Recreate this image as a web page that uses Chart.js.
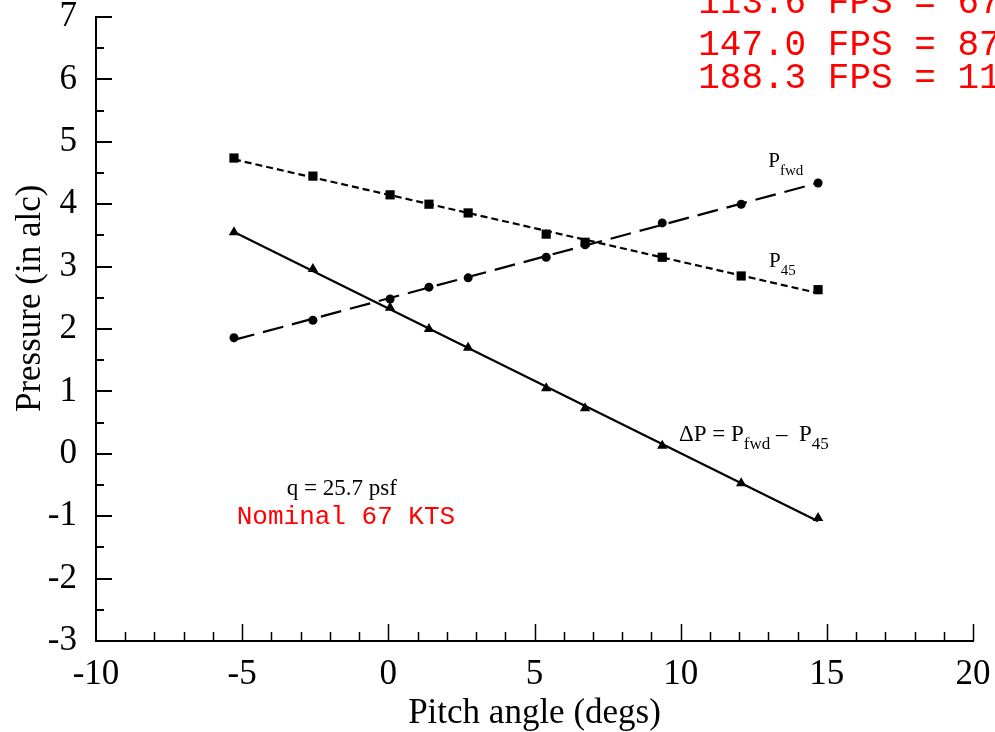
<!DOCTYPE html>
<html>
<head>
<meta charset="utf-8">
<title>Pressure vs pitch angle</title>
<script src="https://cdn.jsdelivr.net/npm/chart.js@4.4.1/dist/chart.umd.min.js"></script>
<style>
  html, body { margin: 0; padding: 0; background: #fff; overflow: hidden; }
  canvas { display: block; }
</style>
</head>
<body>
<canvas id="pitchChart" width="995" height="732"></canvas>
<script>
// values
var pitch  = [-5.28, -2.58, 0.06, 1.39, 2.73, 5.40, 6.73, 9.37, 12.07, 14.70];
var pFwd   = [1.86, 2.14, 2.48, 2.67, 2.82, 3.15, 3.35, 3.70, 4.00, 4.34];
var p45    = [4.74, 4.45, 4.15, 4.00, 3.86, 3.52, 3.39, 3.15, 2.85, 2.63];
var deltaP = [3.55, 2.96, 2.34, 2.00, 1.70, 1.05, 0.73, 0.13, -0.47, -1.03];

var xTicks = [-10, -5, 0, 5, 10, 15, 20];
var yTicks = [-3, -2, -1, 0, 1, 2, 3, 4, 5, 6, 7];

var speedNotes = ['113.6 FPS = 67 KTS', '147.0 FPS = 87 KTS', '188.3 FPS = 111 KTS'];

var serif = "'Liberation Serif', 'Times New Roman', serif";
var mono = "'Courier New', 'Liberation Mono', monospace";

function points(xs, ys) {
  return xs.map(function (x, i) { return { x: x, y: ys[i] }; });
}

// least squares line through a series, drawn from first to last run
function fitLine(xs, ys) {
  var n = xs.length, sx = 0, sy = 0, sxx = 0, sxy = 0;
  for (var i = 0; i < n; i++) {
    sx += xs[i]; sy += ys[i]; sxx += xs[i] * xs[i]; sxy += xs[i] * ys[i];
  }
  var b = (n * sxy - sx * sy) / (n * sxx - sx * sx);
  var a = (sy - b * sx) / n;
  return [{ x: xs[0], y: a + b * xs[0] }, { x: xs[n - 1], y: a + b * xs[n - 1] }];
}

// text placed on the plot, in axis units
var notes = [
  { x: 13.0, y: 4.60, size: 21, color: '#000', font: serif, parts: [['P', 0], ['fwd', 1]] },
  { x: 13.02, y: 2.99, size: 21, color: '#000', font: serif, parts: [['P', 0], ['45', 1]] },
  { x: 9.94, y: 0.205, size: 23, color: '#000', font: serif,
    parts: [['\u0394P = ', 0], ['P', 0], ['fwd', 1], [' \u2013  ', 0], ['P', 0], ['45', 1]] },
  { x: -1.59, y: -0.66, size: 23, color: '#000', font: serif, center: true, parts: [['q = 25.7 psf', 0]] },
  { x: -1.45, y: -1.125, size: 26, color: '#ff0000', font: mono, center: true, parts: [['Nominal 67 KTS', 0]] },
  { x: 10.6, y: 7.06, size: 36, color: '#ff0000', font: mono, parts: [[speedNotes[0], 0]] },
  { x: 10.6, y: 6.39, size: 36, color: '#ff0000', font: mono, parts: [[speedNotes[1], 0]] },
  { x: 10.6, y: 5.86, size: 36, color: '#ff0000', font: mono, parts: [[speedNotes[2], 0]] }
];

var notesPlugin = {
  id: 'notes',
  afterDraw: function (chart) {
    var ctx = chart.ctx, xs = chart.scales.x, ys = chart.scales.y;
    ctx.save();
    ctx.textBaseline = 'alphabetic';
    ctx.textAlign = 'left';
    notes.forEach(function (n) {
      var subSize = Math.round(n.size * 0.72);
      var total = 0;
      n.parts.forEach(function (p) {
        ctx.font = (p[1] ? subSize : n.size) + 'px ' + n.font;
        total += ctx.measureText(p[0]).width;
      });
      var px = xs.getPixelForValue(n.x) - (n.center ? total / 2 : 0);
      var py = ys.getPixelForValue(n.y);
      ctx.fillStyle = n.color;
      n.parts.forEach(function (p) {
        ctx.font = (p[1] ? subSize : n.size) + 'px ' + n.font;
        ctx.fillText(p[0], px, py + (p[1] ? 8 : 0));
        px += ctx.measureText(p[0]).width;
      });
    });
    ctx.restore();
  }
};

// tick marks point into the plot, with minor marks between labels
var tickPlugin = {
  id: 'inwardTicks',
  afterDraw: function (chart) {
    var ctx = chart.ctx, xs = chart.scales.x, ys = chart.scales.y, area = chart.chartArea;
    ctx.save();
    ctx.strokeStyle = '#000';
    ctx.lineWidth = 1.5;
    ctx.beginPath();
    for (var v = xs.min + 1; v <= xs.max; v++) {
      var px = Math.round(xs.getPixelForValue(v)) + 0.5;
      var len = v % 5 === 0 ? 17 : 9;
      ctx.moveTo(px, area.bottom);
      ctx.lineTo(px, area.bottom - len);
    }
    ctx.stroke();
    ctx.lineWidth = 2;
    ctx.beginPath();
    for (var w = ys.min + 0.5; w <= ys.max; w += 0.5) {
      var py = Math.round(ys.getPixelForValue(w));
      var len2 = w % 1 === 0 ? 16 : 8;
      ctx.moveTo(area.left, py);
      ctx.lineTo(area.left + len2, py);
    }
    ctx.stroke();
    ctx.restore();
  }
};

var ctx = document.getElementById('pitchChart').getContext('2d');

var chart = new Chart(ctx, {
  type: 'scatter',
  data: {
    datasets: [
      { label: 'P45', data: points(pitch, p45), pointStyle: 'rect', pointRadius: 6.5,
        backgroundColor: '#000', borderColor: '#000', borderWidth: 0, showLine: false },
      { label: 'P45 fit', data: fitLine(pitch, p45), showLine: true, pointRadius: 0,
        borderColor: '#000', borderWidth: 2.2, borderDash: [7, 4] },
      { label: 'Pfwd', data: points(pitch, pFwd), pointStyle: 'circle', pointRadius: 4.5,
        backgroundColor: '#000', borderColor: '#000', borderWidth: 0, showLine: false },
      { label: 'Pfwd fit', data: fitLine(pitch, pFwd), showLine: true, pointRadius: 0,
        borderColor: '#000', borderWidth: 2.2, borderDash: [21, 9] },
      { label: 'dP', data: points(pitch, deltaP), pointStyle: 'triangle', pointRadius: 6,
        backgroundColor: '#000', borderColor: '#000', borderWidth: 0, showLine: false },
      { label: 'dP fit', data: fitLine(pitch, deltaP), showLine: true, pointRadius: 0,
        borderColor: '#000', borderWidth: 2.2 }
    ]
  },
  options: {
    responsive: false,
    animation: false,
    layout: { padding: { top: 17, right: 22, left: 0, bottom: 0 } },
    plugins: { legend: { display: false }, tooltip: { enabled: false } },
    scales: {
      x: {
        type: 'linear', min: -10, max: 20,
        afterBuildTicks: function (s) { s.ticks = xTicks.map(function (v) { return { value: v }; }); },
        afterFit: function (s) { s.height = 91; s.paddingLeft = 0; s.paddingRight = 0; },
        grid: { display: false },
        border: { display: true, color: '#000', width: 2 },
        ticks: { color: '#000', padding: 8, maxRotation: 0, font: { family: serif, size: 35, lineHeight: 1 } },
        title: { display: true, text: 'Pitch angle (degs)', color: '#000',
          padding: { top: 0, bottom: 1 }, font: { family: serif, size: 35, lineHeight: 1 } }
      },
      y: {
        type: 'linear', min: -3, max: 7,
        afterBuildTicks: function (s) { s.ticks = yTicks.map(function (v) { return { value: v }; }); },
        afterFit: function (s) { s.width = 96; s.paddingTop = 0; s.paddingBottom = 0; },
        grid: { display: false },
        border: { display: true, color: '#000', width: 2 },
        ticks: { color: '#000', padding: 11, font: { family: serif, size: 35, lineHeight: 1 } },
        title: { display: true, text: '       Pressure (in alc)', color: '#000',
          padding: { top: 10, bottom: 0 }, font: { family: serif, size: 35, lineHeight: 1.2 } }
      }
    }
  },
  plugins: [tickPlugin, notesPlugin]
});
</script>
</body>
</html>
